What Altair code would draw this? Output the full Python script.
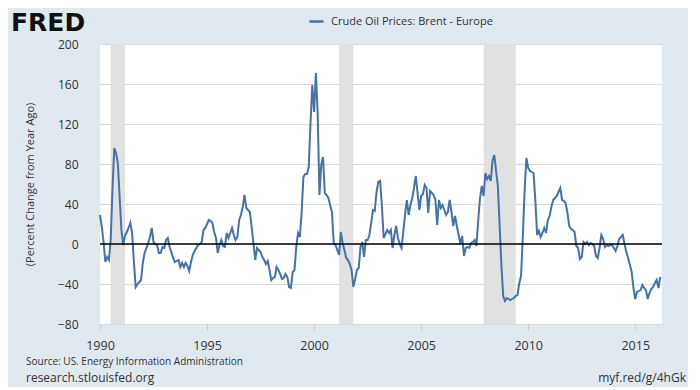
import altair as alt
import pandas as pd

SERIES = "Crude Oil Prices: Brent - Europe"
FONT = "Open Sans"

# Monthly percent change from year ago, Jan 1990 - Mar 2016
y1990 = [29, 17, 2, -18, -13, -16, 4, 55, 96, 91, 81, 47]
y1991 = [14, -1, 8, 12, 16, 21, 11, -18, -43, -40, -38, -36]
y1992 = [-19, -9, -4, 1, 7, 16, 2, 0, -1, -9, -9, -3]
y1993 = [-4, 4, 6, -3, -8, -14, -18, -17, -16, -23, -19, -23]
y1994 = [-19, -22, -27, -18, -11, -7, -4, -1, 0, 2, 14, 16]
y1995 = [20, 24, 23, 21, 12, 6, -9, -1, 4, -2, -3, 11]
y1996 = [6, 11, 16, 9, 4, 7, 24, 29, 37, 49, 36, 34]
y1997 = [32, 17, 1, -16, -4, -6, -8, -13, -16, -20, -17, -26]
y1998 = [-36, -34, -33, -23, -26, -30, -35, -34, -30, -33, -43, -44]
y1999 = [-28, -26, -3, 11, 7, 31, 67, 70, 70, 77, 121, 159]
y2000 = [132, 171, 131, 49, 79, 87, 51, 49, 46, 39, 32, 1]
y2001 = [-1, -6, -11, 12, 1, -6, -14, -16, -20, -26, -43, -35]
y2002 = [-26, -24, -3, 2, -13, 4, 4, 9, 21, 34, 33, 52]
y2003 = [62, 63, 38, 6, 10, 14, 11, 14, -4, 9, 18, 6]
y2004 = [0, -4, 12, 30, 44, 29, 39, 46, 56, 68, 51, 34]
y2005 = [48, 50, 59, 56, 31, 53, 51, 49, 44, 19, 44, 36]
y2006 = [39, 34, 29, 32, 44, 32, 18, 28, 18, 9, 0, 8]
y2007 = [-12, -4, -3, -4, 1, 2, 4, -2, 24, 46, 58, 48]
y2008 = [71, 65, 68, 63, 83, 89, 73, 58, 18, -22, -52, -57]
y2009 = [-54, -55, -56, -55, -54, -52, -51, -39, -32, 8, 54, 86]
y2010 = [76, 73, 72, 71, 44, 9, 13, 7, 11, 16, 11, 24]
y2011 = [28, 37, 44, 46, 48, 52, 56, 44, 43, 41, 31, 18]
y2012 = [15, 14, 12, -2, -4, -15, -13, 2, 0, 2, -1, 1]
y2013 = [0, -2, -12, -14, -4, 9, 5, -3, -1, -2, -1, -1]
y2014 = [-4, -7, -2, 5, 7, 9, 0, -8, -14, -21, -28, -44]
y2015 = [-55, -48, -47, -46, -41, -44, -46, -55, -49, -45, -43, -39]
y2016 = [-36, -44, -33]

years = [y1990, y1991, y1992, y1993, y1994, y1995, y1996, y1997, y1998, y1999,
         y2000, y2001, y2002, y2003, y2004, y2005, y2006, y2007, y2008, y2009,
         y2010, y2011, y2012, y2013, y2014, y2015, y2016]

# Recession periods (start year, start month, end year, end month)
rec_start = [(1990, 7), (2001, 3), (2007, 12)]
rec_end = [(1991, 3), (2001, 11), (2009, 6)]

x_ticks = [1990, 1995, 2000, 2005, 2010, 2015]
y_ticks = [-80, -40, 0, 40, 80, 120, 160, 200]

rows = []
for yi, vals in enumerate(years):
    for mi, v in enumerate(vals):
        rows.append({"t": 1990 + yi + mi / 12.0, "value": v, "series": SERIES})
df = pd.DataFrame(rows)

rec = pd.DataFrame({
    "start": [y + (m - 1) / 12.0 for y, m in rec_start],
    "end": [y + (m - 1) / 12.0 for y, m in rec_end],
})

W, H = 562, 280
xs = alt.Scale(domain=[1990, 2016.25], nice=False, zero=False)
ys = alt.Scale(domain=[-80, 200], nice=False)

x_axis = alt.Axis(values=x_ticks, format="d", grid=False, domain=False, ticks=True,
                  tickColor="#c8c8c8", tickSize=6, labelFontSize=12.5, labelColor="#333333",
                  labelFont=FONT, labelPadding=9, title=None, labelFlush=False)
y_axis = alt.Axis(values=y_ticks, grid=True, gridColor="#d9d9d9", gridWidth=1, domain=False,
                  ticks=False, tickSize=0, labelPadding=22, labelFontSize=12, labelColor="#333333",
                  labelFont=FONT, title="(Percent Change from Year Ago)", titleFont=FONT,
                  titleFontSize=11, titleFontWeight="normal", titleColor="#333333", titlePadding=22)

recess = alt.Chart(rec).mark_rect(color="#e1e1e1").encode(
    x=alt.X("start:Q", scale=xs, axis=x_axis),
    x2="end:Q",
)

line = alt.Chart(df).mark_line(strokeWidth=2).encode(
    x=alt.X("t:Q", scale=xs, axis=x_axis),
    y=alt.Y("value:Q", scale=ys, axis=y_axis),
    color=alt.Color("series:N", scale=alt.Scale(range=["#4572a7"]),
                    legend=alt.Legend(orient="none", legendX=208, legendY=-31, title=None,
                                      symbolType="stroke", symbolStrokeWidth=2.5, symbolSize=196,
                                      labelFontSize=11, labelColor="#333333", labelFont=FONT,
                                      labelOffset=6, labelLimit=0, padding=0)),
)

zero = alt.Chart(pd.DataFrame({"z": [0]})).mark_rule(color="black", strokeWidth=1.6).encode(
    y=alt.Y("z:Q", scale=ys, axis=y_axis)
)

def label(txt, x, y, size, align="left", weight="normal", font=FONT, color="#333333"):
    return alt.Chart(pd.DataFrame({"s": [txt]})).mark_text(
        align=align, baseline="middle", fontSize=size, fontWeight=weight, font=font, color=color
    ).encode(x=alt.value(x), y=alt.value(y), text="s:N")

fred = label("FRED", -89, -21, 25, weight="bold", font="DejaVu Sans", color="#111111")
src = label("Source: US. Energy Information Administration", -74, 318, 10)
site = label("research.stlouisfed.org", -74, 334, 12)
short = label("myf.red/g/4hGk", 586, 334, 12, align="right")

chart = alt.layer(recess, line, zero, fred, src, site, short).properties(
    width=W, height=H,
    autosize=alt.AutoSizeParams(type="none"),
    padding={"left": 92, "top": 36, "right": 26, "bottom": 63},
    background="#e1e9f0",
).configure_view(fill="white", stroke=None)

chart.save("out.html", embed_options={"renderer": "svg", "actions": False})
